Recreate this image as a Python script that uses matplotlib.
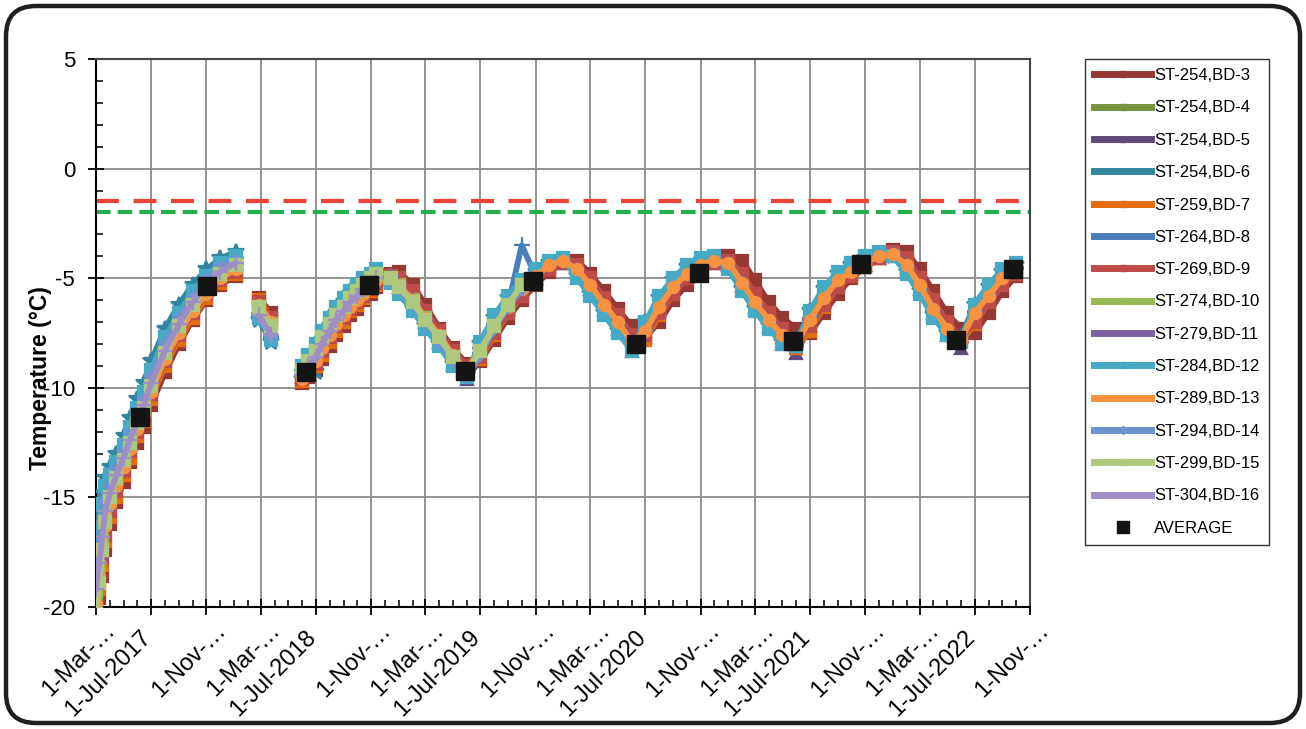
import matplotlib
matplotlib.use("Agg")
import matplotlib.pyplot as plt
import matplotlib.dates as mdates
from matplotlib.patches import FancyBboxPatch
from matplotlib.lines import Line2D
from matplotlib.ticker import FixedLocator, MultipleLocator, NullFormatter
from matplotlib.transforms import IdentityTransform, ScaledTranslation, blended_transform_factory
from datetime import datetime
import numpy as np

plt.rcParams['font.family'] = ['Liberation Sans', 'DejaVu Sans']

# ---------------------------------------------------------------- data
# reading dates (None rows in the series mark breaks in the record)
dates = [
    "2017-03-01", "2017-03-08", "2017-03-15", "2017-03-22", "2017-04-01", "2017-04-15",
    "2017-05-01", "2017-05-15", "2017-06-01", "2017-06-15", "2017-07-01", "2017-08-01",
    "2017-09-01", "2017-10-01", "2017-11-01", "2017-12-01", "2018-01-05",
    "2018-01-25",
    "2018-02-25", "2018-03-25",
    "2018-05-01",
    "2018-06-01", "2018-06-15", "2018-07-01", "2018-07-15", "2018-08-01", "2018-08-15",
    "2018-09-01", "2018-09-15", "2018-10-01", "2018-10-15", "2018-11-01", "2018-11-12",
    "2018-11-28",
    "2018-12-15", "2019-01-01", "2019-02-01", "2019-03-01", "2019-04-01", "2019-05-01",
    "2019-06-01", "2019-07-01", "2019-08-01", "2019-09-01", "2019-10-01", "2019-11-01",
    "2019-12-01",
    "2020-01-01", "2020-02-01", "2020-03-01", "2020-04-01", "2020-05-01", "2020-06-01",
    "2020-07-01", "2020-08-01", "2020-09-01", "2020-10-01", "2020-11-01", "2020-12-01",
    "2021-01-01", "2021-02-01", "2021-03-01", "2021-04-01", "2021-05-01", "2021-06-01",
    "2021-07-01", "2021-08-01", "2021-09-01", "2021-10-01", "2021-11-01", "2021-12-01",
    "2022-01-01", "2022-02-01", "2022-03-01", "2022-04-01", "2022-05-01", "2022-06-01",
    "2022-07-01", "2022-08-01", "2022-09-01", "2022-10-01",
]

bd3 = [
    -20.4, -19.6, -18.6, -17.4, -16.2, -15.2, -14.3, -13.4, -12.5, -11.8, -10.8, -9.3, -8.0, -6.9, -6.0, -5.3, -4.9,
    None,
    -5.9, -6.6,
    None,
    -9.8, -9.5, -9.2, -8.7, -8.1, -7.6, -7.2, -6.7, -6.4, -6.0, -5.7, -5.4,
    None,
    -4.8, -4.7, -5.3, -6.2, -7.3, -8.2, -8.9, -8.8, -7.8, -6.8, -6.0, -5.3, -4.7,
    -4.3, -4.2, -4.8, -5.6, -6.4, -7.2, -7.7, -7.0, -6.0, -5.3, -4.7, -4.3,
    -4.0, -4.2, -5.1, -6.1, -6.8, -7.3, -7.5, -6.6, -5.7, -5.0, -4.5, -4.1,
    -3.7, -3.8, -4.6, -5.6, -6.6, -7.3, -7.5, -6.6, -5.6, -4.9,
]
bd4 = [
    -19.6, -18.4, -17.1, -16.0, -15.1, -14.3, -13.5, -12.7, -11.8, -11.1, -10.1, -8.6, -7.4, -6.4, -5.6, -5.0, -4.6,
    None,
    -6.2, -7.0,
    None,
    -9.3, -8.9, -8.4, -7.8, -7.2, -6.7, -6.3, -5.9, -5.6, -5.3, -5.0, -4.8,
    None,
    -4.9, -5.2, -5.9, -6.7, -7.5, -8.4, -9.1, -8.2, -7.1, -6.2, -5.4,
] + [None] * 36
bd5 = [
    -18.6, -17.3, -16.1, -15.2, -14.5, -13.8, -13.0, -12.2, -11.3, -10.6, -9.6, -8.1, -6.9, -5.9, -5.1, -4.5, -4.1,
    None,
    -6.6, -7.5,
    None,
    -9.5, -9.1, -8.7, -8.1, -7.5, -7.0, -6.6, -6.2, -5.9, -5.6, -5.3, -5.1,
    None,
    -5.0, -5.4, -6.1, -7.0, -7.9, -8.9, -9.6, -8.7, -7.4, -6.4, -5.6, -5.0, -4.5,
    -4.3, -4.7, -5.5, -6.4, -7.3, -8.3, -7.7, -6.5, -5.5, -4.9, -4.5, -4.3,
    -4.4, -5.3, -6.3, -7.2, -8.0, -8.4, -7.2, -6.1, -5.2, -4.8, -4.4, -4.1,
    -4.0, -4.5, -5.5, -6.6, -7.6, -8.2, -6.9, -6.0, -5.1, -4.7,
]
bd6 = [
    -17.0, -15.8, -14.8, -14.1, -13.6, -13.0, -12.2, -11.4, -10.5, -9.8, -8.8, -7.3, -6.2, -5.3, -4.6, -4.1, -3.8,
    None,
    -6.9, -7.9,
    None,
    -9.6, -9.4, -9.3, -8.0, -7.2, -6.6, -6.1, -5.7, -5.4, -5.2, -4.9, -4.7,
    None,
    -5.1, -5.6, -6.4, -7.2, -8.0, -8.9, -9.4, -8.0, -6.8, -5.9, -5.2, -4.7, -4.3,
    -4.2, -4.9, -5.7, -6.6, -7.4, -8.1, -7.0, -5.9, -5.1, -4.5, -4.2, -4.1,
    -4.5, -5.5, -6.4, -7.2, -7.9, -7.9, -6.5, -5.5, -4.8, -4.4, -4.1, -3.9,
    -4.0, -4.7, -5.6, -6.7, -7.5, -7.7, -6.2, -5.4, -4.7, -4.4,
]
bd7 = [
    -20.2, -19.2, -18.1, -17.0, -15.9, -15.0, -14.0, -13.2, -12.2, -11.5, -10.5, -9.0, -7.8, -6.8, -5.9, -5.2, -4.8,
    None,
    -6.0, -6.8,
    None,
    -9.7, -9.4, -9.0, -8.5, -7.9, -7.4, -7.0, -6.5, -6.2, -5.9, -5.6, -5.3,
    None,
    -5.1, -5.2, -5.9, -6.8, -7.7, -8.6, -9.3, -8.7, -7.6, -6.6, -5.8, -5.1, -4.6,
    -4.3, -4.5, -5.2, -6.1, -7.0, -7.9, -7.8, -6.7, -5.7, -5.0, -4.6, -4.3,
    -4.3, -5.0, -5.9, -6.8, -7.6, -8.2, -7.4, -6.3, -5.4, -4.9, -4.5, -4.1,
    -3.9, -4.2, -5.1, -6.2, -7.2, -7.9, -7.1, -6.1, -5.3, -4.8,
]
bd8 = [
    -18.2, -16.9, -15.8, -14.9, -14.3, -13.6, -12.8, -12.0, -11.1, -10.4, -9.4, -7.9, -6.7, -5.8, -5.0, -4.4, -4.1,
    None,
    -6.7, -7.7,
    None,
    -9.2, -8.8, -8.3, -7.7, -7.1, -6.6, -6.2, -5.8, -5.5, -5.2, -4.9, -4.7,
    None,
    -5.0, -5.4, -6.1, -6.9, -7.8, -8.7, -9.4, -8.4, -7.2, -6.2, -3.5, -4.9, -4.4,
    -4.2, -4.7, -5.4, -6.3, -7.1, -8.0, -7.4, -6.3, -5.4, -4.8, -4.4, -4.2,
    -4.4, -5.3, -6.2, -7.0, -7.7, -8.1, -6.9, -5.9, -5.1, -4.7, -4.3, -4.0,
    -3.9, -4.5, -5.4, -6.5, -7.4, -7.9, -6.6, -5.8, -5.0, -4.6,
]
bd9 = [
    -20.0, -18.9, -17.7, -16.7, -15.6, -14.7, -13.8, -12.9, -12.0, -11.3, -10.3, -8.8, -7.6, -6.6, -5.7, -5.1, -4.7,
    None,
    -6.1, -6.8,
    None,
    -9.6, -9.3, -8.9, -8.3, -7.7, -7.2, -6.8, -6.4, -6.1, -5.8, -5.5, -5.2,
    None,
    -4.9, -5.0, -5.6, -6.5, -7.4, -8.3, -9.0, -8.6, -7.5, -6.6, -5.8, -5.1, -4.6,
    -4.3, -4.4, -5.0, -5.9, -6.7, -7.6, -7.6, -6.6, -5.7, -5.0, -4.6, -4.3,
    -4.2, -4.8, -5.7, -6.6, -7.3, -7.8, -7.2, -6.2, -5.4, -4.9, -4.4, -4.1,
    -3.8, -4.1, -5.0, -6.0, -7.0, -7.7, -7.0, -6.1, -5.3, -4.8,
]
bd10 = [
    -19.3, -18.1, -16.9, -15.9, -15.0, -14.2, -13.4, -12.6, -11.7, -11.0, -10.0, -8.5, -7.3, -6.3, -5.5, -4.9, -4.5,
    None,
    -6.3, -7.1,
    None,
    -9.1, -8.6, -8.1, -7.5, -6.9, -6.4, -6.0, -5.7, -5.4, -5.1, -4.9, -4.7,
    None,
    -5.0, -5.3, -6.0, -6.8, -7.7, -8.6, -9.3, -8.1, -7.0, -6.1, -5.3,
] + [None] * 36
bd11 = [
    -19.0, -17.8, -16.6, -15.6, -14.8, -14.0, -13.2, -12.4, -11.5, -10.8, -9.8, -8.3, -7.1, -6.1, -5.3, -4.7, -4.3,
    None,
    -6.6, -7.6,
    None,
    -9.4, -9.0, -8.6, -8.0, -7.4, -6.9, -6.5, -6.1, -5.8, -5.5, -5.2, -5.0,
    None,
    -4.9, -5.3, -6.0, -6.9, -7.7, -8.6, -9.3, -8.2, -7.1, -6.2, -5.4, -4.8, -4.4,
    -4.2, -4.6, -5.4, -6.3, -7.1, -8.0, -7.3, -6.2, -5.3, -4.7, -4.3, -4.2,
    -4.3, -5.2, -6.2, -7.0, -7.7, -8.1, -6.8, -5.8, -5.0, -4.6, -4.2, -4.0,
    -3.9, -4.4, -5.4, -6.5, -7.4, -7.9, -6.5, -5.7, -4.9, -4.5,
]
bd12 = [
    -17.6, -16.4, -15.3, -14.5, -14.0, -13.4, -12.6, -11.8, -10.9, -10.2, -9.2, -7.7, -6.6, -5.6, -4.9, -4.3, -4.0,
    None,
    -6.8, -7.8,
    None,
    -9.0, -8.5, -8.0, -7.4, -6.8, -6.3, -5.9, -5.6, -5.3, -5.0, -4.8, -4.6,
    None,
    -5.2, -5.7, -6.5, -7.3, -8.1, -9.0, -9.5, -7.9, -6.7, -5.8, -5.1, -4.6, -4.2,
    -4.1, -5.0, -5.8, -6.7, -7.5, -8.3, -7.0, -5.8, -5.0, -4.4, -4.1, -4.0,
    -4.6, -5.6, -6.5, -7.3, -8.0, -8.1, -6.5, -5.4, -4.7, -4.3, -4.0, -3.8,
    -4.0, -4.8, -5.7, -6.8, -7.6, -7.9, -6.2, -5.3, -4.6, -4.3,
]
bd13 = [
    -19.8, -18.6, -17.4, -16.3, -15.3, -14.5, -13.6, -12.8, -11.9, -11.2, -10.2, -8.7, -7.5, -6.5, -5.7, -5.0, -4.6,
    None,
    -6.2, -7.0,
    None,
    -9.6, -9.2, -8.8, -8.2, -7.6, -7.1, -6.7, -6.3, -6.0, -5.7, -5.4, -5.1,
    None,
    -5.0, -5.3, -6.0, -6.8, -7.6, -8.5, -9.2, -8.3, -7.2, -6.3, -5.5, -4.9, -4.4,
    -4.2, -4.6, -5.3, -6.2, -7.0, -7.9, -7.4, -6.3, -5.4, -4.8, -4.4, -4.2,
    -4.3, -5.2, -6.1, -6.9, -7.6, -8.0, -6.9, -5.9, -5.1, -4.7, -4.3, -4.0,
    -3.9, -4.4, -5.3, -6.4, -7.3, -7.8, -6.6, -5.8, -5.0, -4.6,
]
bd14 = [
    -18.4, -17.2, -16.1, -15.2, -14.5, -13.7, -12.9, -12.1, -11.2, -10.5, -9.5, -8.0, -6.8, -5.9, -5.1, -4.5, -4.2,
    None,
    -6.6, -7.6,
    None,
    -9.3, -8.9, -8.5, -7.9, -7.3, -6.8, -6.4, -6.0, -5.7, -5.4, -5.1, -4.9,
    None,
    -5.1, -5.5, -6.2, -7.0, -7.9, -8.8, -9.5, -8.5, -7.3, -6.3, -5.5,
] + [None] * 36
bd15 = [
    -20.3, -18.9, -17.4, -16.1, -15.0, -14.1, -13.3, -12.5, -11.6, -10.9, -9.9, -8.4, -7.2, -6.2, -5.4, -4.8, -4.4,
    None,
    -6.3, -7.2,
    None,
    -9.2, -8.8, -8.3, -7.7, -7.1, -6.7, -6.3, -5.9, -5.6, -5.3, -5.0, -4.8,
    None,
    -5.0, -5.4, -6.1, -6.9, -7.7, -8.6, -9.3, -8.3, -7.2, -6.2, -5.3,
] + [None] * 36
bd16 = [
    -19.2, -18.0, -16.8, -15.6, -14.8, -14.0, -13.2, -12.4, -11.5, -10.8, -9.8, -8.3, -7.1, -6.1, -5.3, -4.7, -4.3,
    None,
    -6.7, -7.6,
    None,
    -9.4, -9.0, -8.6, -8.0, -7.4, -6.9, -6.5, -6.1, -5.8, -5.5, -5.2, -5.0,
    None,
] + [None] * 47

series_names = [
    "ST-254,BD-3", "ST-254,BD-4", "ST-254,BD-5", "ST-254,BD-6", "ST-259,BD-7",
    "ST-264,BD-8", "ST-269,BD-9", "ST-274,BD-10", "ST-279,BD-11", "ST-284,BD-12",
    "ST-289,BD-13", "ST-294,BD-14", "ST-299,BD-15", "ST-304,BD-16",
]
series_values = [bd3, bd4, bd5, bd6, bd7, bd8, bd9, bd10, bd11, bd12, bd13, bd14, bd15, bd16]

avg_dates = ["2017-06-07", "2017-11-03", "2018-06-09", "2018-10-27", "2019-05-28", "2019-10-27",
             "2020-06-11", "2020-10-28", "2021-05-25", "2021-10-22", "2022-05-22", "2022-09-25"]
avg_values = [-11.35, -5.35, -9.3, -5.3, -9.25, -5.15, -8.0, -4.75, -7.85, -4.35, -7.8, -4.6]

red_limit = -1.5
green_limit = -2.0

tick_dates = ["2017-03-01", "2017-07-01", "2017-11-01", "2018-03-01", "2018-07-01", "2018-11-01",
              "2019-03-01", "2019-07-01", "2019-11-01", "2020-03-01", "2020-07-01", "2020-11-01",
              "2021-03-01", "2021-07-01", "2021-11-01", "2022-03-01", "2022-07-01", "2022-11-01"]
tick_labels = ["1-Mar-…", "1-Jul-2017", "1-Nov-…", "1-Mar-…", "1-Jul-2018", "1-Nov-…",
               "1-Mar-…", "1-Jul-2019", "1-Nov-…", "1-Mar-…", "1-Jul-2020", "1-Nov-…",
               "1-Mar-…", "1-Jul-2021", "1-Nov-…", "1-Mar-…", "1-Jul-2022", "1-Nov-…"]

# ---------------------------------------------------------------- styles
series_colors = ["#953735", "#77933C", "#604A7B", "#31859C", "#E46C0A", "#4A7EBB", "#BE4B48",
                 "#98B954", "#7D60A0", "#46AAC5", "#F69240", "#6F93CF", "#AEC97E", "#A08FC6"]
series_markers = ["s", "s", "^", "*", "s", "+", "s", "s", "+", "s", "o", "D", "s", "+"]
marker_sizes = {"s": 8.5, "^": 8, "*": 12, "+": 11, "o": 8, "D": 6.5}


def to_dt(values):
    return [datetime.strptime(v, "%Y-%m-%d") for v in values]


W, H = 1306, 729
fig = plt.figure(figsize=(W / 100, H / 100), dpi=100)
ax = fig.add_axes([96 / W, 1 - 607 / H, (1030 - 96) / W, (607 - 59) / H])

x = to_dt(dates)
for name, vals, col, mk in zip(series_names, series_values, series_colors, series_markers):
    assert len(vals) == len(x), name
    y = np.array(vals, dtype=float)
    ax.plot(x, y, color=col, lw=4.2, marker=mk, ms=marker_sizes[mk], mfc=col, mec=col,
            mew=1.6, solid_joinstyle="round", solid_capstyle="round", zorder=3)

ax.plot(to_dt(avg_dates), avg_values, ls="none", marker="s", ms=13, color="#141414", zorder=6)

ax.axhline(red_limit, color="#EC4235", lw=3, dashes=(5.5, 3.5), zorder=2)
ax.axhline(green_limit, color="#25AE50", lw=3, dashes=(3.5, 1.7), zorder=2)

ax.set_xlim(datetime(2017, 3, 1), datetime(2022, 11, 1))
ax.set_ylim(-20, 5)

ax.yaxis.set_minor_locator(MultipleLocator(1))
ax.set_yticks([-20, -15, -10, -5, 0, 5])
ax.set_yticklabels(["-20", "-15", "-10", "-5", "0", "5"], fontsize=16)

tick_x = mdates.date2num(to_dt(tick_dates))
ax.xaxis.set_major_locator(FixedLocator(tick_x))
ax.xaxis.set_minor_locator(mdates.MonthLocator())
ax.xaxis.set_major_formatter(NullFormatter())

ax.grid(True, which="major", color="#8a8a8a", lw=1.3)
ax.set_axisbelow(True)
ax.tick_params(which="major", direction="inout", length=12, width=1.3, color="black")
ax.tick_params(which="minor", direction="in", length=5, width=1.1, color="black")
ax.tick_params(axis="y", which="major", pad=9)

for side in ("left", "bottom"):
    ax.spines[side].set_color("black")
    ax.spines[side].set_linewidth(1.5)
for side in ("top", "right"):
    ax.spines[side].set_color("#444444")
    ax.spines[side].set_linewidth(1.5)

# rotated date labels under the axis
xt = blended_transform_factory(ax.transData, ax.transAxes)
for tx, lbl in zip(tick_x, tick_labels):
    if "…" in lbl:
        dx, dy = 16, -20
    else:
        dx, dy = -3, -27
    off = ScaledTranslation(dx / 100, dy / 100, fig.dpi_scale_trans)
    ax.text(tx, 0, lbl, transform=xt + off, rotation=45, rotation_mode="anchor",
            ha="right", va="center", fontsize=17, clip_on=False)

fig.text(41 / W, 1 - 378 / H, "Temperature (°C)", rotation=90, ha="center", va="center",
         fontsize=16.5, fontweight="bold")

handles = [Line2D([], [], color=c, lw=5, marker=m, ms=4, mfc=c, mec=c)
           for c, m in zip(series_colors, series_markers)]
handles.append(Line2D([], [], ls="none", marker="s", ms=8, color="#141414"))
leg = fig.legend(handles, series_names + ["AVERAGE"], loc="upper left",
                 bbox_to_anchor=(1085 / W, 1 - 59 / H), bbox_transform=fig.transFigure,
                 frameon=True, fancybox=False, edgecolor="black", fontsize=12,
                 labelspacing=1.04, handlelength=3.4, handletextpad=0.2, borderpad=0.55,
                 borderaxespad=0, numpoints=1)
leg.get_frame().set_linewidth(1.0)

frame = FancyBboxPatch((6, 6), W - 12, H - 12, boxstyle="round,pad=0,rounding_size=30",
                       transform=IdentityTransform(), fill=False, ec="#1e1e1e", lw=3.2)
fig.add_artist(frame)

fig.savefig("out.png", dpi=100)
